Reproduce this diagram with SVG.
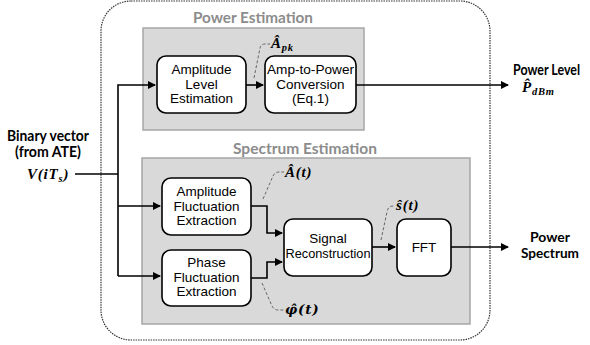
<svg xmlns="http://www.w3.org/2000/svg" width="590" height="345" viewBox="0 0 590 345">
<style>
.grp{fill:#d9d9d9;stroke:#a6a6a6;stroke-width:1.5}
.box{fill:#fff;stroke:#000;stroke-width:1.6}
.bt{font-family:"Liberation Sans",Arial,sans-serif;font-size:13.5px;fill:#000;text-anchor:middle}
.title{font-family:Lato,"Open Sans","Liberation Sans",sans-serif;font-weight:bold;font-size:15px;fill:#8c8c8c}
.lab{font-family:Lato,"Open Sans","Liberation Sans",sans-serif;font-weight:bold;font-size:14.5px;fill:#000}
.m{font-family:"Liberation Serif","DejaVu Serif",serif;font-weight:bold;font-style:italic;font-size:15px;fill:#000;letter-spacing:0.8px}
.ms{font-size:10.5px}
.conn{fill:none;stroke:#000;stroke-width:1.6}
.lead{fill:none;stroke:#666;stroke-width:1;stroke-dasharray:3 2}
</style>
<defs>
<marker id="ah" markerWidth="8" markerHeight="8" refX="7" refY="4" orient="auto" markerUnits="userSpaceOnUse">
<path d="M0,0 L8,4 L0,8 Z" fill="#000"/>
</marker>
</defs>
<rect x="101" y="1" width="389" height="339" rx="30" fill="none" stroke="#333" stroke-width="1.2" stroke-dasharray="1.5 1"/>
<g id="power-estimation">
<rect class="grp" x="143" y="28" width="221" height="102"/>
<text class="title" x="193" y="23" textLength="120" lengthAdjust="spacingAndGlyphs">Power Estimation</text>
</g>
<g id="spectrum-estimation">
<rect class="grp" x="142" y="158" width="328" height="166"/>
<text class="title" x="233" y="154" textLength="144" lengthAdjust="spacingAndGlyphs">Spectrum Estimation</text>
</g>
<g id="amp-level">
<rect class="box" x="157" y="56" width="89" height="57" rx="9"/>
<text class="bt" x="201.5" y="74">Amplitude</text>
<text class="bt" x="201.5" y="88.5">Level</text>
<text class="bt" x="201.5" y="103">Estimation</text>
</g>
<g id="amp-to-power">
<rect class="box" x="265" y="56" width="91" height="57" rx="9"/>
<text class="bt" x="310.5" y="74" textLength="87" lengthAdjust="spacingAndGlyphs">Amp-to-Power</text>
<text class="bt" x="310.5" y="88.5">Conversion</text>
<text class="bt" x="310.5" y="103">(Eq.1)</text>
</g>
<g id="amp-fluct">
<rect class="box" x="162" y="178" width="89" height="57" rx="9"/>
<text class="bt" x="206.5" y="196">Amplitude</text>
<text class="bt" x="206.5" y="210.5">Fluctuation</text>
<text class="bt" x="206.5" y="225">Extraction</text>
</g>
<g id="phase-fluct">
<rect class="box" x="162" y="250" width="89" height="56" rx="9"/>
<text class="bt" x="206.5" y="267">Phase</text>
<text class="bt" x="206.5" y="281.5">Fluctuation</text>
<text class="bt" x="206.5" y="296">Extraction</text>
</g>
<g id="signal-recon">
<rect class="box" x="284" y="219" width="88" height="57" rx="9"/>
<text class="bt" x="328" y="243">Signal</text>
<text class="bt" x="328" y="258" textLength="85" lengthAdjust="spacingAndGlyphs">Reconstruction</text>
</g>
<g id="fft">
<rect class="box" x="397" y="219" width="54" height="57" rx="9"/>
<text class="bt" x="424" y="252">FFT</text>
</g>
<g id="connectors">
<polyline class="conn" points="75,174 118,174"/>
<polyline class="conn" points="118,276 118,85 155,85" marker-end="url(#ah)"/>
<polyline class="conn" points="118,206 160,206" marker-end="url(#ah)"/>
<polyline class="conn" points="118,276 160,276" marker-end="url(#ah)"/>
<polyline class="conn" points="246,85 263,85" marker-end="url(#ah)"/>
<polyline class="conn" points="356,85 508,85" marker-end="url(#ah)"/>
<polyline class="conn" points="251,206 267,206 267,233 282,233" marker-end="url(#ah)"/>
<polyline class="conn" points="251,278 267,278 267,262 282,262" marker-end="url(#ah)"/>
<polyline class="conn" points="372,247 395,247" marker-end="url(#ah)"/>
<polyline class="conn" points="451,247 508,247" marker-end="url(#ah)"/>
<path class="lead" d="M254,78 L260,48 Q261,44 265,44 L270,44"/>
<path class="lead" d="M263,199 L273,176 Q275,172 279,172 L284,172"/>
<path class="lead" d="M262,283 L272,306 Q274,310 278,310 L284,310"/>
<path class="lead" d="M381,240 L387,212 Q388,206 393,206 L395,206"/>
</g>
<g id="labels">
<text class="m" x="271" y="48">Â<tspan class="ms" dy="3">pk</tspan></text>
<text class="m" x="285" y="177">Â(t)</text>
<text class="m" x="285" y="314" style="font-family:'DejaVu Serif',serif;font-size:13.5px">φ̂(t)</text>
<text class="m" x="396" y="210">ŝ(t)</text>
<text class="lab" x="513" y="75" textLength="67" lengthAdjust="spacingAndGlyphs">Power Level</text>
<text class="m" x="522" y="92">P̂<tspan class="ms" dy="3">dBm</tspan></text>
<text class="lab" x="530" y="242" textLength="40" lengthAdjust="spacingAndGlyphs" style="font-size:13px">Power</text>
<text class="lab" x="521" y="257.5" textLength="58" lengthAdjust="spacingAndGlyphs" style="font-size:13px">Spectrum</text>
<text class="lab" x="7" y="141" textLength="82" lengthAdjust="spacingAndGlyphs">Binary vector</text>
<text class="lab" x="15" y="157" textLength="66" lengthAdjust="spacingAndGlyphs">(from ATE)</text>
<text class="m" x="27" y="179">V(iT<tspan class="ms" dy="3">s</tspan><tspan dy="-3">)</tspan></text>
</g>
</svg>
